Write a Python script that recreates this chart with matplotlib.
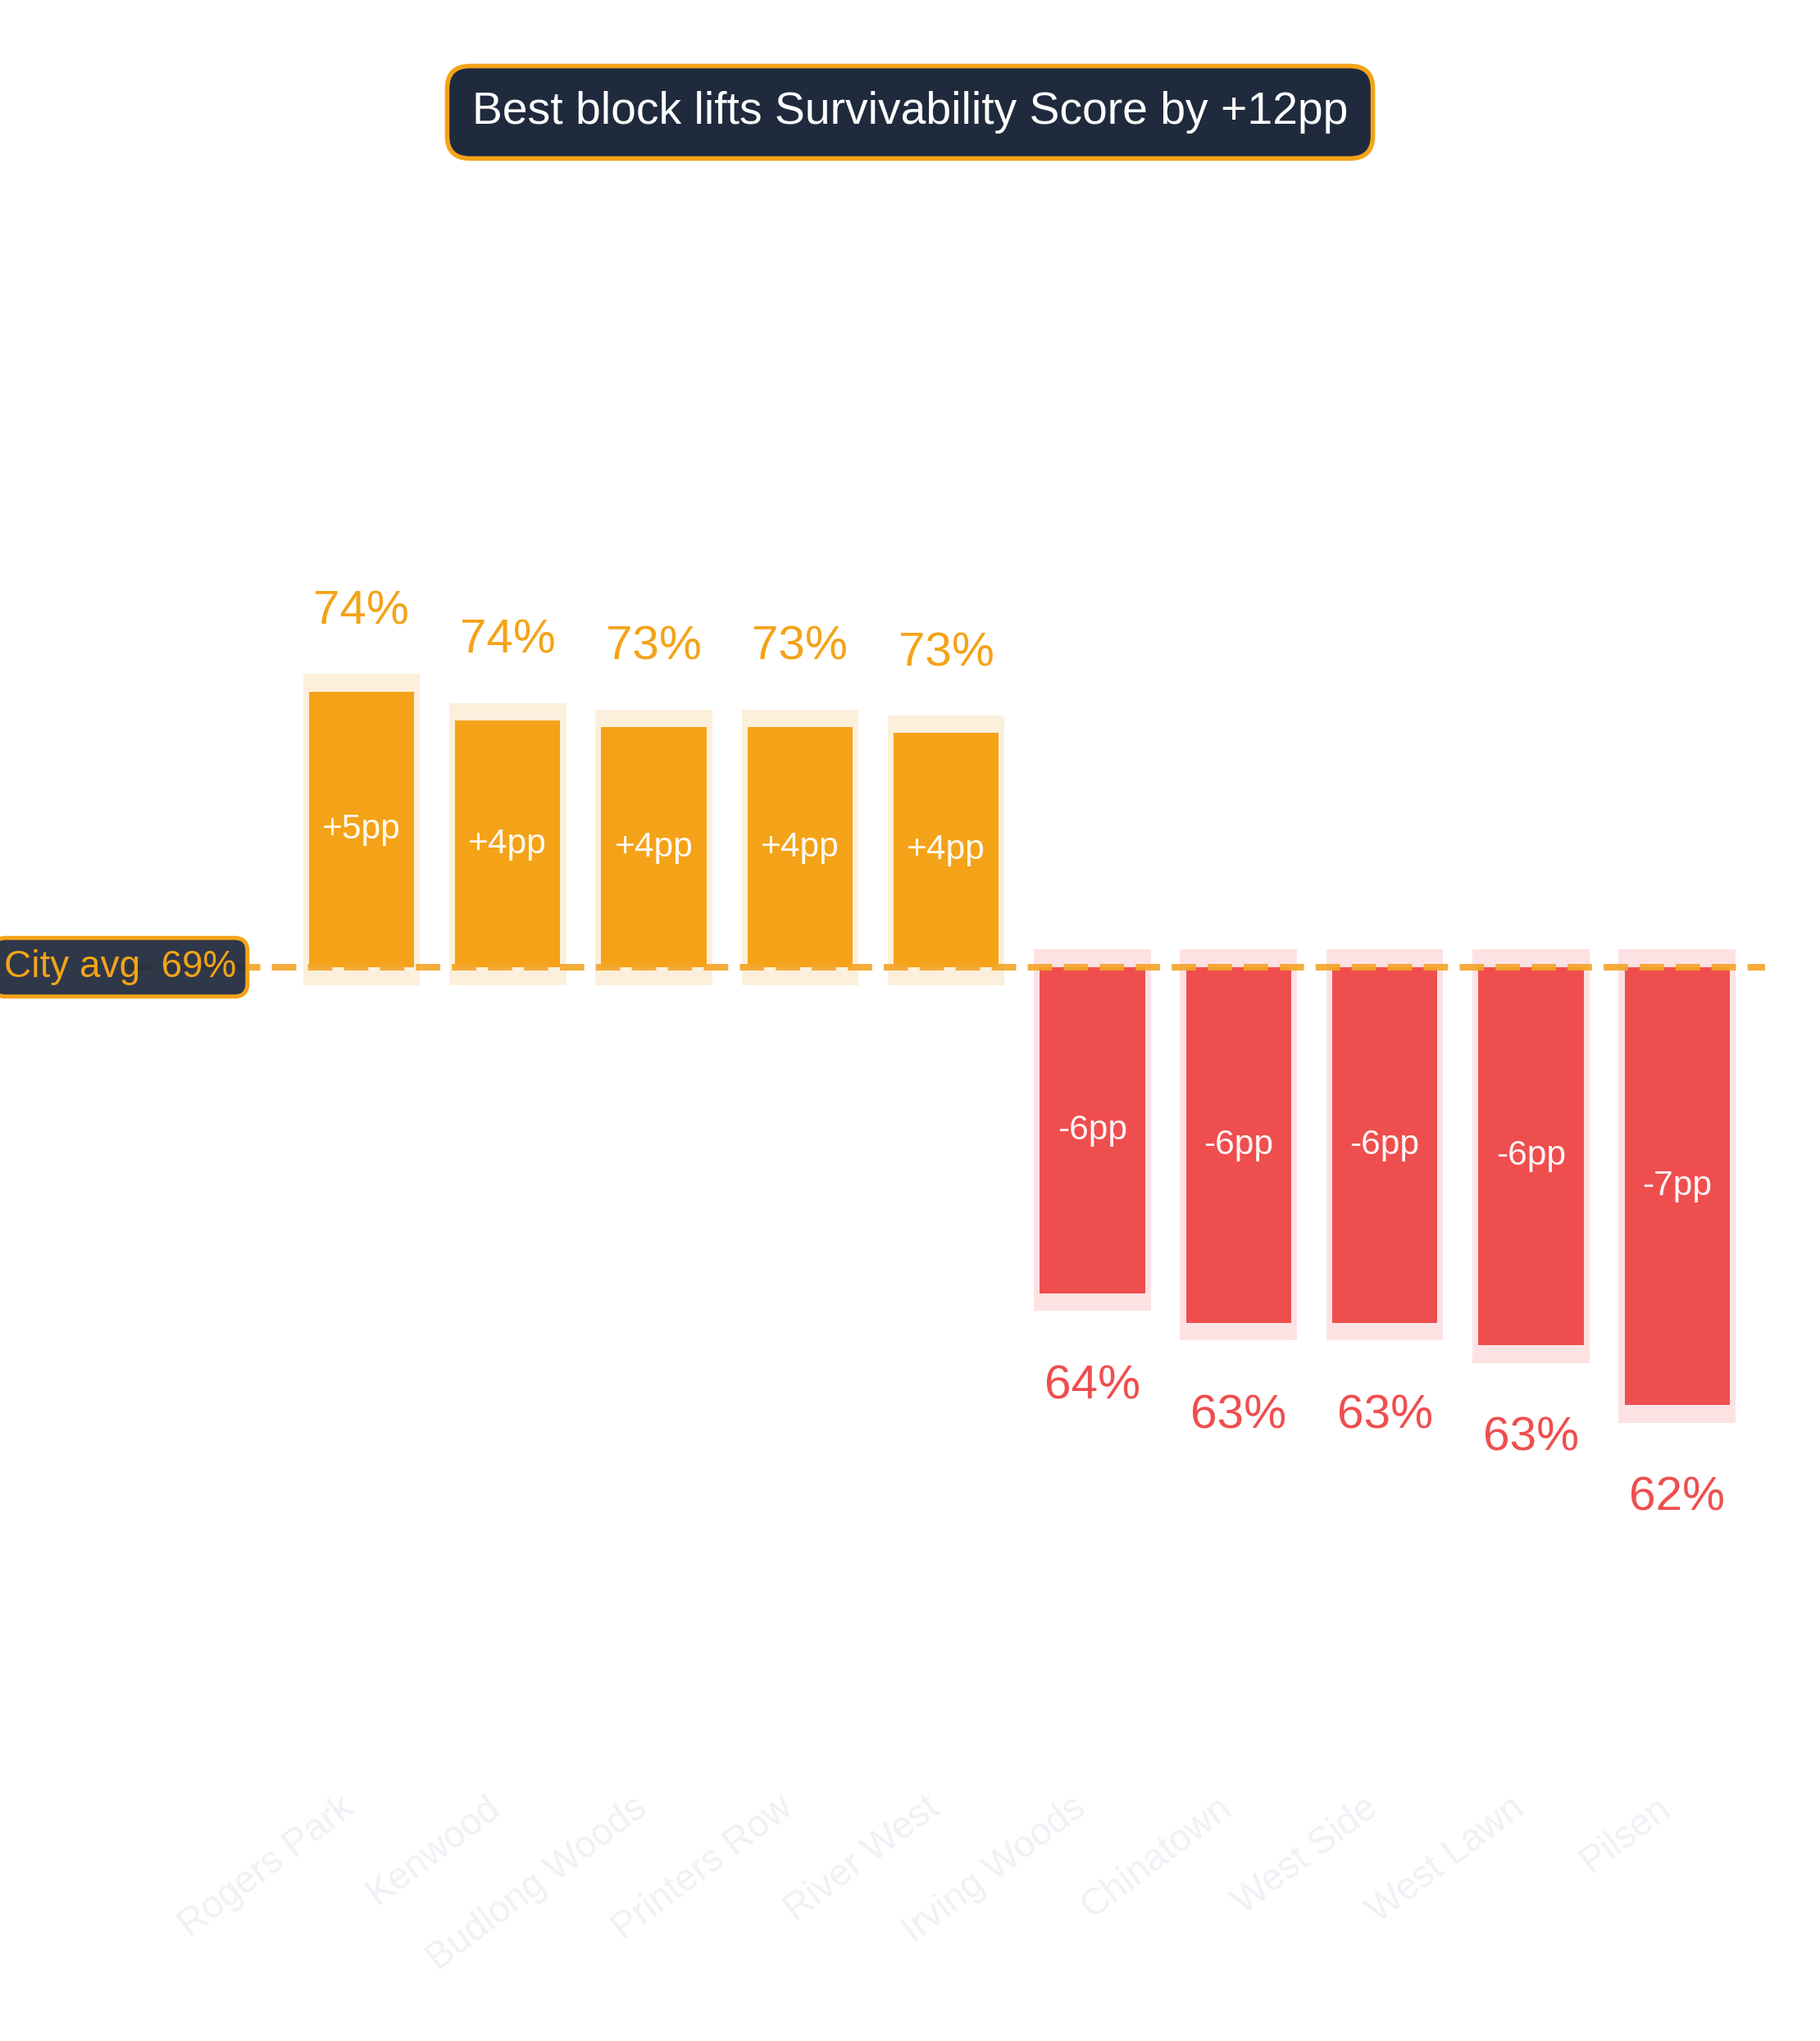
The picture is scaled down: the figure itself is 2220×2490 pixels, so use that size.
import matplotlib
matplotlib.use("Agg")
import matplotlib.pyplot as plt
import numpy as np

plt.rcParams['font.family'] = ['Liberation Sans', 'DejaVu Sans']

# data
blocks = ['Rogers Park', 'Kenwood', 'Budlong Woods', 'Printers Row', 'River West',
          'Irving Woods', 'Chinatown', 'West Side', 'West Lawn', 'Pilsen']
scores = [74.05, 73.56, 73.45, 73.45, 73.35, 63.83, 63.33, 63.33, 62.95, 61.93]
city_avg = 69.37

ORANGE = '#F4A318'
RED = '#EF4E4E'
ORANGE_HALO = '#FCEFDC'
RED_HALO = '#FDE2E3'
NAVY = '#1F2A3D'

scores = np.array(scores)
delta = scores - city_avg
x = np.arange(len(blocks))
up = delta >= 0

fig = plt.figure(figsize=(11.1, 12.45), dpi=200)
ax = fig.add_axes([0.1504, 0.1265, 0.8193, 0.7530])

# halo behind each bar, a bit wider and a bit longer at both ends
ext = 0.3
sgn = np.where(up, 1, -1)
ax.bar(x, delta + 2 * ext * sgn, bottom=city_avg - ext * sgn, width=0.80,
       color=np.where(up, ORANGE_HALO, RED_HALO), zorder=1)
ax.bar(x, delta, bottom=city_avg, width=0.72,
       color=np.where(up, ORANGE, RED), zorder=2)

# city average line
ax.plot([-1.6, 9.6], [city_avg, city_avg], color='#F4A62A', alpha=0.92, lw=2.9,
        linestyle=(0, (3.7, 1.75)), zorder=3, clip_on=False)
ax.text(-0.857, city_avg, f'City avg  {city_avg:.0f}%', ha='right', va='center',
        fontsize=16.5, color=ORANGE, zorder=5,
        bbox=dict(boxstyle='round,pad=0.3,rounding_size=0.35',
                  facecolor=(0.12, 0.16, 0.23, 0.93), edgecolor=ORANGE, linewidth=1.8))

for xi, s, d in zip(x, scores, delta):
    col = ORANGE if d >= 0 else RED
    off = 35.0 if d >= 0 else -40.8
    ax.annotate(f'{s:.0f}%', (xi, s), xytext=(0, off), textcoords='offset points',
                ha='center', va='center', fontsize=21, color=col)
    ax.text(xi, city_avg + d / 2, f'{d:+.0f}pp', ha='center', va='center',
            fontsize=15.3, color='white', alpha=0.95, zorder=4)

ax.set_xlim(-0.6, 9.6)
ax.set_ylim(55.512, 81.626)
ax.set_xticks(x)
ax.set_xticklabels(blocks, rotation=37, ha='right', fontsize=16.5, color='#EEF1F5')
ax.tick_params(axis='x', length=0, pad=3)
ax.set_yticks([])
for sp in ax.spines.values():
    sp.set_visible(False)

best_lift = scores.max() - scores.min()
fig.text(0.5, 0.945, f'Best block lifts Survivability Score by +{best_lift:.0f}pp',
         ha='center', va='center', fontsize=19.9, color='white',
         bbox=dict(boxstyle='round,pad=0.55,rounding_size=0.5',
                   facecolor=NAVY, edgecolor=ORANGE, linewidth=2))

fig.savefig('out.png', dpi=200, facecolor='white')
